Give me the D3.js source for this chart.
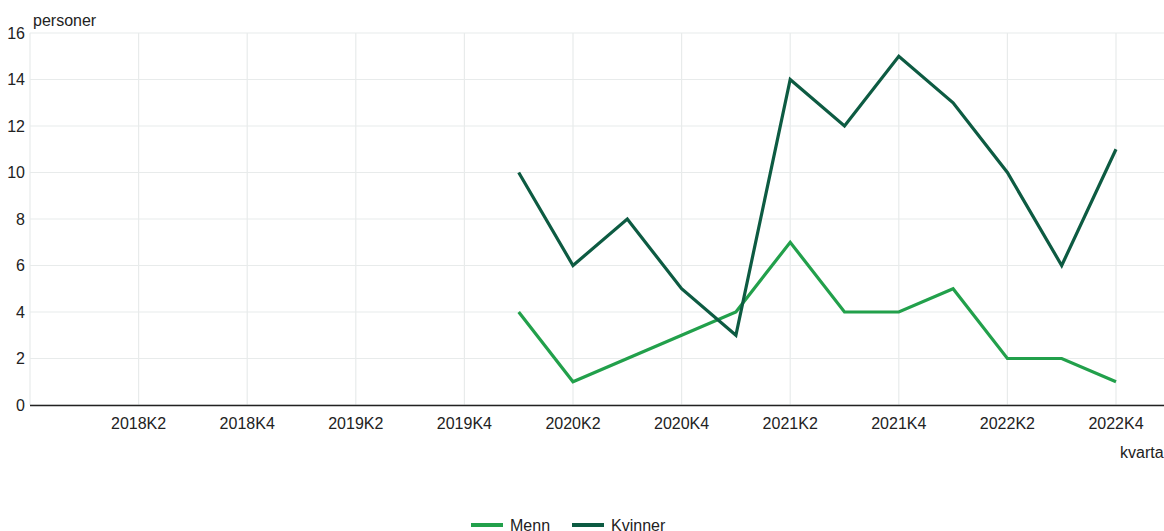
<!DOCTYPE html>
<html>
<head>
<meta charset="utf-8">
<script src="https://cdn.jsdelivr.net/npm/d3@7"></script>
<style>
  body { margin: 0; background: #fff; }
  svg text { font-family: "Liberation Sans", Arial, sans-serif; fill: #222; }
</style>
</head>
<body>
<script>
// quarters shown on the axis (first one is the empty slot at the y axis)
var quarters = ["2017K4",
  "2018K1", "2018K2", "2018K3", "2018K4",
  "2019K1", "2019K2", "2019K3", "2019K4",
  "2020K1", "2020K2", "2020K3", "2020K4",
  "2021K1", "2021K2", "2021K3", "2021K4",
  "2022K1", "2022K2", "2022K3", "2022K4"];

var tickLabels = ["2018K2", "2018K4", "2019K2", "2019K4", "2020K2",
  "2020K4", "2021K2", "2021K4", "2022K2", "2022K4"];

var dataQuarters = ["2020K1", "2020K2", "2020K3", "2020K4",
  "2021K1", "2021K2", "2021K3", "2021K4",
  "2022K1", "2022K2", "2022K3", "2022K4"];

var menn    = [4, 1, 2, 3, 4, 7, 4, 4, 5, 2, 2, 1];
var kvinner = [10, 6, 8, 5, 3, 14, 12, 15, 13, 10, 6, 11];

var yTicks = [0, 2, 4, 6, 8, 10, 12, 14, 16];

var W = 1164, H = 531;

var svg = d3.select("body")
    .append("svg")
    .attr("width", W)
    .attr("height", H);

var x = d3.scaleLinear()
    .domain([0, quarters.length - 1])
    .range([30, 1116]);

var y = d3.scaleLinear()
    .domain([0, 16])
    .range([405, 33]);

function qx(q) { return x(quarters.indexOf(q)); }

// horizontal gridlines
svg.append("g").selectAll("line")
  .data(yTicks)
  .enter().append("line")
    .attr("x1", 30).attr("x2", W)
    .attr("y1", d => y(d)).attr("y2", d => y(d))
    .attr("stroke", "#e8ebeb")
    .attr("stroke-width", 1.2);

// vertical gridlines (left edge + labelled quarters)
svg.append("g").selectAll("line")
  .data(["2017K4"].concat(tickLabels))
  .enter().append("line")
    .attr("x1", d => qx(d)).attr("x2", d => qx(d))
    .attr("y1", 33).attr("y2", 405)
    .attr("stroke", "#e8ebeb")
    .attr("stroke-width", 1.2);

// y tick labels
svg.append("g").selectAll("text")
  .data(yTicks)
  .enter().append("text")
    .attr("x", 25)
    .attr("y", d => y(d))
    .attr("dy", "0.35em")
    .attr("text-anchor", "end")
    .attr("font-size", 16)
    .text(d => d);

// x tick labels
svg.append("g").selectAll("text")
  .data(tickLabels)
  .enter().append("text")
    .attr("x", d => qx(d))
    .attr("y", 429)
    .attr("text-anchor", "middle")
    .attr("font-size", 16)
    .text(d => d);

// x axis line
svg.append("line")
    .attr("x1", 30).attr("x2", W)
    .attr("y1", 405.5).attr("y2", 405.5)
    .attr("stroke", "#222")
    .attr("stroke-width", 1.5);

// axis titles
svg.append("text")
    .attr("x", 33).attr("y", 26)
    .attr("font-size", 16)
    .text("personer");

svg.append("text")
    .attr("x", 1120).attr("y", 458)
    .attr("font-size", 16)
    .text("kvartal");

var series = [
  { name: "Menn", values: menn, color: "#22a04b" },
  { name: "Kvinner", values: kvinner, color: "#0d5b42" }
];

var line = d3.line()
    .x((d, i) => qx(dataQuarters[i]))
    .y(d => y(d));

svg.append("g").selectAll("path")
  .data(series)
  .enter().append("path")
    .attr("d", d => line(d.values))
    .attr("fill", "none")
    .attr("stroke", d => d.color)
    .attr("stroke-width", 3.2)
    .attr("stroke-linejoin", "miter");

// legend
var legendX = [471, 572];
var legend = svg.append("g").selectAll("g")
  .data(series)
  .enter().append("g")
    .attr("transform", (d, i) => "translate(" + legendX[i] + ",525)");

legend.append("line")
    .attr("x1", 0).attr("x2", 32)
    .attr("stroke", d => d.color)
    .attr("stroke-width", 4);

legend.append("text")
    .attr("x", 39)
    .attr("y", 6)
    .attr("font-size", 16)
    .text(d => d.name);
</script>
</body>
</html>
